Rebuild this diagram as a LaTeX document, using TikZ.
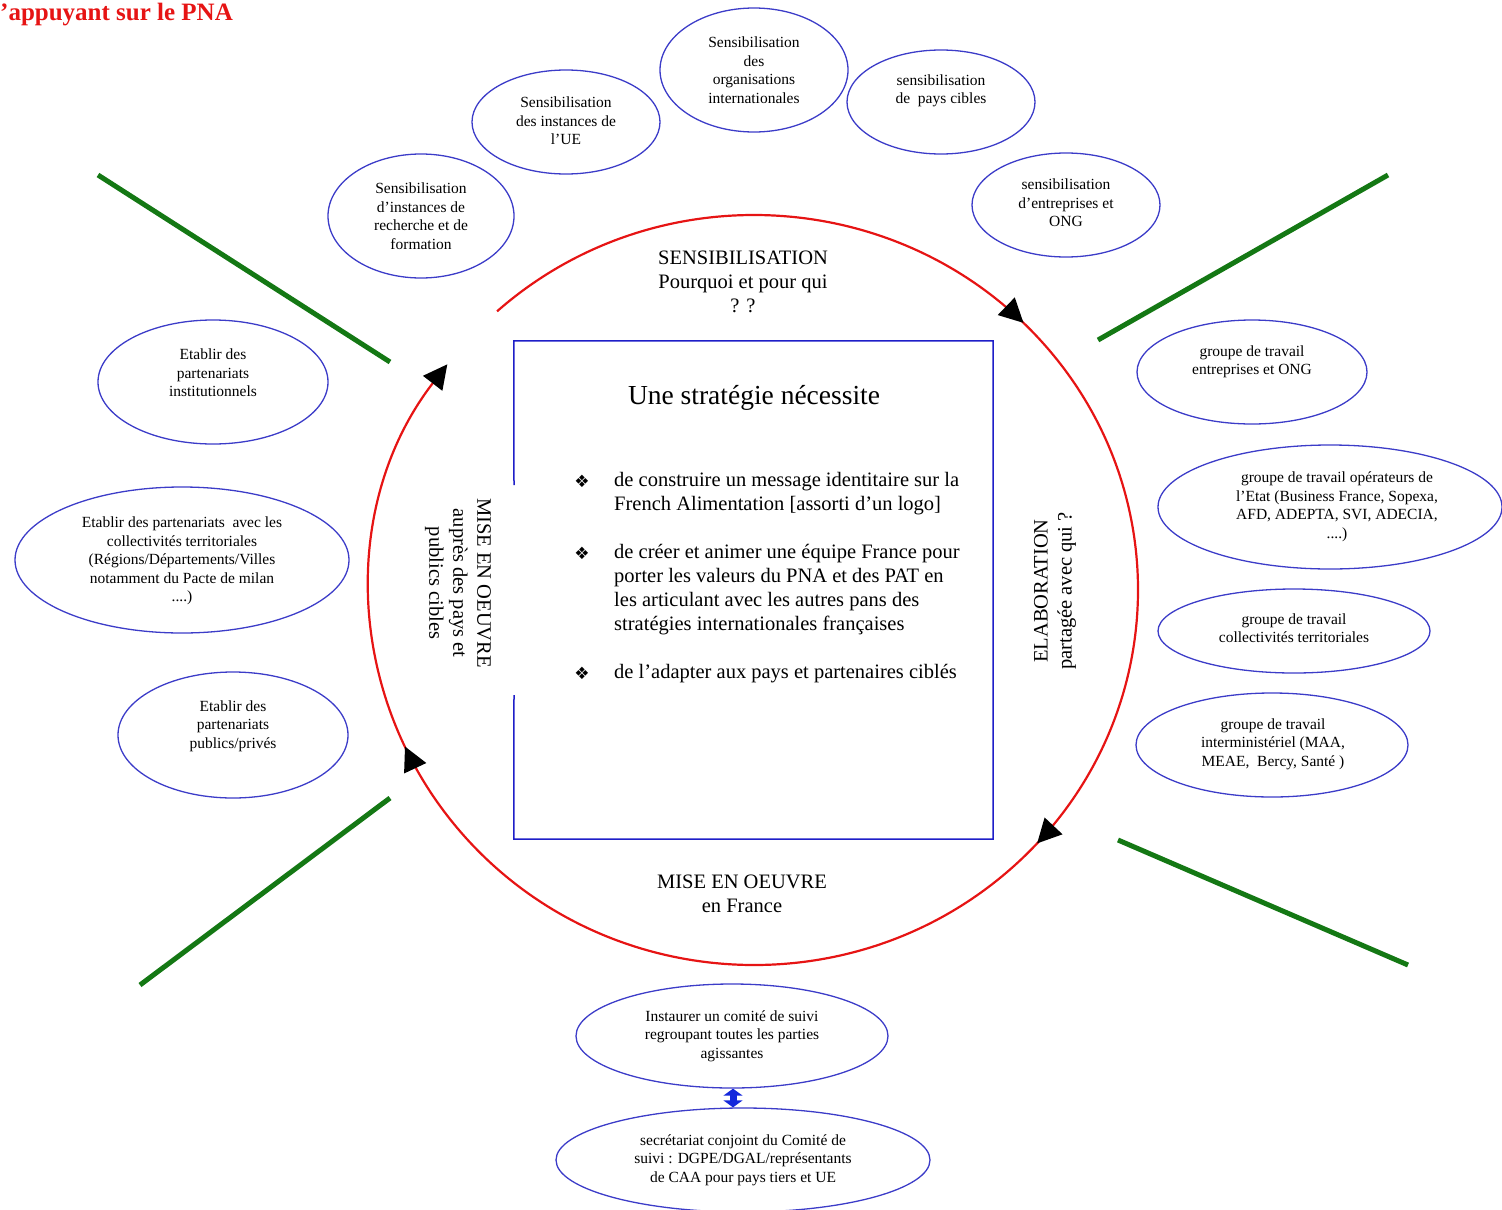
\documentclass[tikz,border=0pt]{standalone}
\usepackage{fontspec}
\setmainfont{Liberation Serif}
\newfontfamily\symfont{DejaVu Sans}
\usetikzlibrary{arrows.meta,decorations.markings,shapes.geometric}
\definecolor{ellblue}{RGB}{60,60,200}
\definecolor{boxblue}{RGB}{30,30,200}
\definecolor{cred}{RGB}{230,20,20}
\definecolor{cgreen}{RGB}{20,120,20}
\definecolor{dblue}{RGB}{20,40,220}
\newcommand{\fE}{\fontsize{15.5}{18.5}\selectfont}
\newcommand{\fM}{\fontsize{20.5}{24}\selectfont}
\newcommand{\fT}{\fontsize{27.5}{31}\selectfont}
\begin{document}
\begin{tikzpicture}[x=1pt,y=-1pt,
  ell/.style={draw=ellblue, line width=1.3pt, ellipse, inner sep=0pt},
  etext/.style={align=center, font=\fE, inner sep=0pt},
  mtext/.style={align=center, font=\fM, inner sep=0pt},
  btext/.style={align=left, font=\fM, inner sep=0pt, anchor=west},
  bullet/.style={font=\symfont\fontsize{17}{19}\selectfont, inner sep=0pt},
  greenline/.style={draw=cgreen, line width=5pt},
  boxline/.style={draw=boxblue, line width=1.5pt}]
\useasboundingbox (0,0) rectangle (1502,1210);

% title
\node[anchor=base west, inner sep=0pt, text=cred, font=\bfseries\fontsize{25}{29}\selectfont] (title) at (0,20) {'appuyant sur le PNA};

% green lines
\coordinate (g1a) at (98,175);  \coordinate (g1b) at (390,362);
\coordinate (g2a) at (1098,340); \coordinate (g2b) at (1388,175);
\coordinate (g3a) at (140,985); \coordinate (g3b) at (390,798);
\coordinate (g4a) at (1118,840); \coordinate (g4b) at (1408,965);
\draw[greenline] (g1a) -- (g1b);
\draw[greenline] (g2a) -- (g2b);
\draw[greenline] (g3a) -- (g3b);
\draw[greenline] (g4a) -- (g4b);

% red cycle
\coordinate (cc) at (754,590);
\draw[draw=cred, line width=2.2pt, -{Triangle[length=24pt,width=24pt,color=black]},
  postaction={decorate}, decoration={markings,
    mark=at position 0.25 with {\arrow{Triangle[length=24pt,width=24pt,color=black]}},
    mark=at position 0.50 with {\arrow{Triangle[length=24pt,width=24pt,color=black]}},
    mark=at position 0.825 with {\arrow{Triangle[length=24pt,width=24pt,color=black]}}}]
  ([shift={(-132:384 and 375)}]cc) arc[start angle=-132, end angle=217, x radius=384, y radius=375];

% central box
\node[minimum width=479pt, minimum height=498pt, inner sep=0pt] (box) at (753.5,590) {};
\coordinate (gapA) at (514,485);
\coordinate (gapB) at (514,695);
\draw[boxline] (gapA) -- (box.north west) -- (box.north east) -- (box.south east) -- (box.south west) -- (gapB);

\node[inner sep=0pt, font=\fT] (head) at (754,398) {Une stratégie nécessite};
\node[bullet] (b1) at (582,481) {❖};
\node[btext] (l1) at (614,494) {de construire un message identitaire sur la\\French Alimentation [assorti d'un logo]};
\node[bullet] (b2) at (582,553) {❖};
\node[btext] (l2) at (614,590) {de créer et animer une équipe France pour\\porter les valeurs du PNA et des PAT en\\les articulant avec les autres pans des\\stratégies internationales françaises};
\node[bullet] (b3) at (582,673) {❖};
\node[btext] (l3) at (614,674) {de l'adapter aux pays et partenaires ciblés};

% cycle labels
\node[mtext] (sens) at (743,282) {SENSIBILISATION\\Pourquoi et pour qui\\? ?};
\node[mtext] (mfr) at (742,894) {MISE EN OEUVRE\\en France};
\node[mtext, rotate=-90] (mpays) at (458,583) {MISE EN OEUVRE\\auprès des pays et\\publics cibles};
\node[mtext, rotate=90] (elab) at (1055,591) {ELABORATION\\partagée avec qui ?};

% top ellipses
\node[ell, minimum width=186pt, minimum height=124pt] (e1) at (421,216) {};
\node[etext] (t1) at (421,216) {Sensibilisation\\d'instances de\\recherche et de\\formation};
\node[ell, minimum width=188pt, minimum height=104pt] (e2) at (566,122) {};
\node[etext] (t2) at (566,121) {Sensibilisation\\des instances de\\l'UE};
\node[ell, minimum width=188pt, minimum height=124pt] (e3) at (754,70) {};
\node[etext] (t3) at (754,70) {Sensibilisation\\des\\organisations\\internationales};
\node[ell, minimum width=188pt, minimum height=104pt] (e4) at (941,102) {};
\node[etext] (t4) at (941,91) {sensibilisation\\de\ \ pays cibles};
\node[ell, minimum width=188pt, minimum height=104pt] (e5) at (1066,205) {};
\node[etext] (t5) at (1066,203) {sensibilisation\\d'entreprises et\\ONG};

% left ellipses
\node[ell, minimum width=230pt, minimum height=124pt] (e6) at (213,382) {};
\node[etext] (t6) at (213,373) {Etablir des\\partenariats\\institutionnels};
\node[ell, minimum width=334pt, minimum height=146pt] (e7) at (182,560) {};
\node[etext] (t7) at (182,561) {Etablir des partenariats\ \ avec les\\collectivités territoriales\\(Régions/Départements/Villes\\notamment du Pacte de milan\\....)};
\node[ell, minimum width=230pt, minimum height=126pt] (e8) at (233,735) {};
\node[etext] (t8) at (233,726) {Etablir des\\partenariats\\publics/privés};

% right ellipses
\node[ell, minimum width=230pt, minimum height=104pt] (e9) at (1252,372) {};
\node[etext] (t9) at (1252,362) {groupe de travail\\entreprises et ONG};
\node[ell, minimum width=344pt, minimum height=124pt] (e10) at (1330,507) {};
\node[etext] (t10) at (1337,507) {groupe de travail opérateurs de\\l'Etat (Business France, Sopexa,\\AFD, ADEPTA, SVI, ADECIA,\\....)};
\node[ell, minimum width=272pt, minimum height=84pt] (e11) at (1294,631) {};
\node[etext] (t11) at (1294,628) {groupe de travail\\collectivités territoriales};
\node[ell, minimum width=272pt, minimum height=104pt] (e12) at (1272,745) {};
\node[etext] (t12) at (1273,744) {groupe de travail\\interministériel (MAA,\\MEAE,\ \ Bercy, Santé )};

% bottom ellipses
\node[ell, minimum width=312pt, minimum height=104pt] (e13) at (732,1036) {};
\node[etext] (t13) at (732,1036) {Instaurer un comité de suivi\\regroupant toutes les parties\\agissantes};
\node[ell, minimum width=374pt, minimum height=104pt] (e14) at (743,1160) {};
\node[etext] (t14) at (743,1160) {secrétariat conjoint du Comité de\\suivi : DGPE/DGAL/représentants\\de CAA pour pays tiers et UE};

\draw[draw=dblue, line width=7pt, {Triangle[length=7pt,width=19pt]}-{Triangle[length=7pt,width=19pt]}] (e13.south -| 733,0) -- (e14.north -| 733,0);
\end{tikzpicture}
\end{document}
